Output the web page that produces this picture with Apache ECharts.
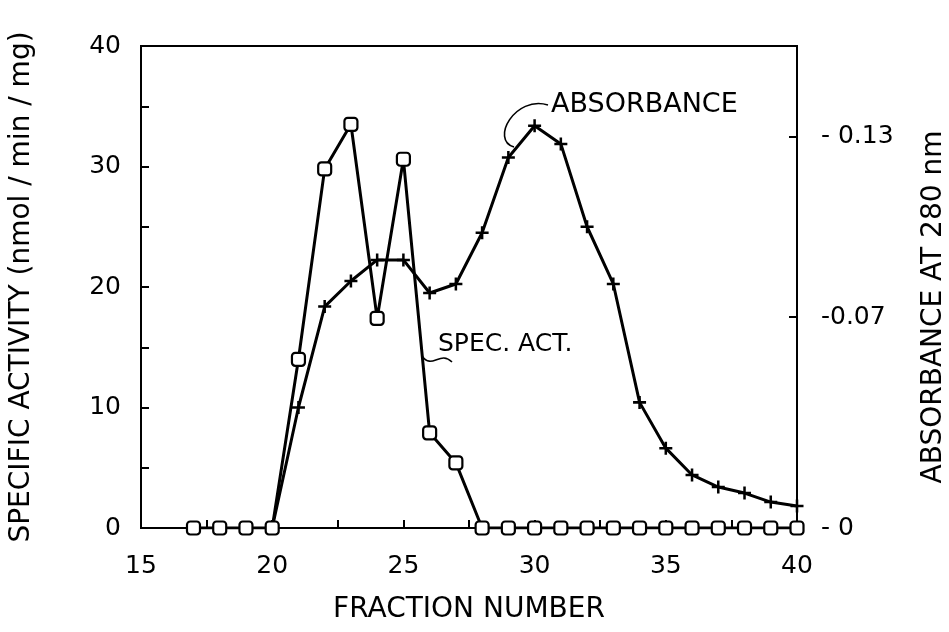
<!DOCTYPE html>
<html lang="en">
<head>
    <meta charset="UTF-8">
    <title>Specific activity / absorbance</title>
    <script src="https://cdn.jsdelivr.net/npm/echarts@6/dist/echarts.min.js"></script>
</head>
<body style="margin: 0; background: #fff;">
<div id="container" style="width: 949px; height: 632px;"></div>
<script type="text/javascript">
    // fraction numbers and readings taken off the figure
    let specFractions = [17, 18, 19, 20, 21, 22, 23, 24, 25, 26, 27, 28, 29, 30, 31, 32, 33, 34, 35, 36, 37, 38, 39, 40];
    let specActivity = [0, 0, 0, 0, 14, 29.8, 33.5, 17.4, 30.6, 7.9, 5.4, 0, 0, 0, 0, 0, 0, 0, 0, 0, 0, 0, 0, 0];
    let absFractions = [20, 21, 22, 23, 24, 25, 26, 27, 28, 29, 30, 31, 32, 33, 34, 35, 36, 37, 38, 39, 40];
    let absorbance = [0, 0.040, 0.0735, 0.082, 0.089, 0.089, 0.078, 0.081, 0.098, 0.123, 0.1335, 0.1275, 0.100, 0.081, 0.0417, 0.0265, 0.0176, 0.0136, 0.0116, 0.0086, 0.0073];
    let rightTicks = [0, 0.07, 0.13];
    let rightLabels = ['- 0', '-0.07', '- 0.13'];

    let font = '"DejaVu Sans", sans-serif';
    let plus = 'path://M5,0h2.4v5h5v2.4h-5v5h-2.4v-5h-5v-2.4h5z';

    let dom = document.getElementById("container");
    let myChart = echarts.init(dom);

    let option = {
        animation: false,
        grid: {left: 141, right: 152, top: 46, bottom: 104, outerBoundsMode: 'none',
            show: true, borderColor: '#000', borderWidth: 2},
        xAxis: {
            type: 'value', min: 15, max: 40, interval: 2.5,
            name: 'FRACTION NUMBER', nameLocation: 'middle', nameGap: 68,
            nameTextStyle: {fontFamily: font, fontSize: 28, color: '#000'},
            axisLine: {lineStyle: {color: '#000', width: 2}},
            axisTick: {inside: true, length: 8, lineStyle: {color: '#000', width: 2}},
            axisLabel: {
                margin: 26, fontFamily: font, fontSize: 25, color: '#000',
                formatter: function (v) { return v % 5 === 0 ? String(v) : ''; }
            },
            splitLine: {show: false}
        },
        yAxis: [{
            type: 'value', min: 0, max: 40, interval: 5,
            name: 'SPECIFIC ACTIVITY (nmol / min / mg)', nameLocation: 'middle', nameGap: 105,
            nameTextStyle: {fontFamily: font, fontSize: 28, color: '#000'},
            axisLine: {show: true, lineStyle: {color: '#000', width: 2}},
            axisTick: {show: true, inside: true, length: 8, lineStyle: {color: '#000', width: 2}},
            axisLabel: {
                margin: 20, fontFamily: font, fontSize: 25, color: '#000',
                formatter: function (v) { return v % 10 === 0 ? String(v) : ''; }
            },
            splitLine: {show: false}
        }, {
            type: 'value', min: 0, max: 0.16, position: 'right',
            name: 'ABSORBANCE AT 280 nm', nameLocation: 'middle', nameGap: 123,
            nameTextStyle: {fontFamily: font, fontSize: 28, color: '#000', padding: [0, 40, 0, 0]},
            axisLine: {show: true, lineStyle: {color: '#000', width: 2}},
            axisTick: {show: true, inside: true, length: 8, customValues: [0.07, 0.13], lineStyle: {color: '#000', width: 2}},
            axisLabel: {
                margin: 24, fontFamily: font, fontSize: 25, color: '#000', customValues: rightTicks,
                formatter: function (v) { return rightLabels[rightTicks.indexOf(v)]; }
            },
            splitLine: {show: false}
        }],
        series: [{
            name: 'ABSORBANCE', type: 'line', yAxisIndex: 1,
            data: absFractions.map(function (f, i) { return [f, absorbance[i]]; }),
            symbol: plus, symbolSize: 13,
            itemStyle: {color: '#000'},
            lineStyle: {color: '#000', width: 3}
        }, {
            name: 'SPEC. ACT.', type: 'line', yAxisIndex: 0,
            data: specFractions.map(function (f, i) { return [f, specActivity[i]]; }),
            symbol: 'roundRect', symbolSize: 13, showAllSymbol: true,
            itemStyle: {color: '#fff', borderColor: '#000', borderWidth: 2.2},
            lineStyle: {color: '#000', width: 3},
            z: 3
        }],
        graphic: [
            {type: 'text', left: 551, top: 91, style: {text: 'ABSORBANCE', font: '27px ' + font, fill: '#000'}},
            {type: 'bezierCurve', shape: {x1: 548, y1: 105, cpx1: 515, cpy1: 95, cpx2: 490, cpy2: 140, x2: 514, y2: 147},
                style: {stroke: '#000', lineWidth: 1.6, fill: null}},
            {type: 'text', left: 438, top: 332, style: {text: 'SPEC. ACT.', font: '25px ' + font, fill: '#000'}},
            {type: 'bezierCurve', shape: {x1: 422, y1: 356, cpx1: 432, cpy1: 370, cpx2: 440, cpy2: 350, x2: 452, y2: 362},
                style: {stroke: '#000', lineWidth: 1.6, fill: null}}
        ]
    };
    myChart.setOption(option);
</script>
</body>
</html>
